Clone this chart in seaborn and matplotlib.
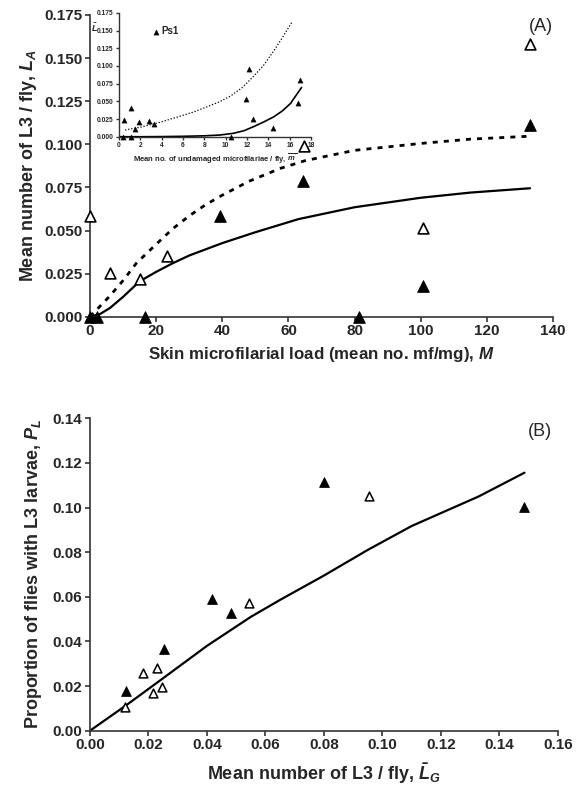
import numpy as np
import pandas as pd
import seaborn as sns
import matplotlib.pyplot as plt

sns.set_style('ticks')
plt.rcParams['font.family'] = ['Liberation Sans', 'DejaVu Sans']
plt.rcParams['font.weight'] = 'bold'
plt.rcParams['axes.labelweight'] = 'bold'
plt.rcParams['mathtext.fontset'] = 'custom'
plt.rcParams['mathtext.rm'] = 'Liberation Sans:bold'
plt.rcParams['mathtext.it'] = 'Liberation Sans:italic:bold'
plt.rcParams['mathtext.bf'] = 'Liberation Sans:bold'

# panel A - skin load vs L3 per fly
a_fill_x = [0, 2, 16.7, 39.3, 64.5, 81.4, 100.6, 133]
a_fill_y = [0, 0, 0, 0.0585, 0.079, 0, 0.0178, 0.111]
a_open_x = [0, 6, 15.1, 23.4, 64.8, 100.6, 133]
a_open_y = [0.0583, 0.0255, 0.0217, 0.0352, 0.099, 0.0516, 0.158]

a_solid_x = [0, 3, 6, 10, 15, 20, 25, 30, 40, 50, 63, 80, 100, 115, 133]
a_solid_y = [0, 0.0015, 0.005, 0.0115, 0.0205, 0.026, 0.031, 0.0355, 0.0427, 0.049,
             0.0566, 0.0635, 0.069, 0.072, 0.0745]
a_dash_x = [0, 3, 6, 10, 14, 20, 25, 30, 35, 40, 48, 57.5, 65, 80, 100, 115, 133]
a_dash_y = [0, 0.006, 0.012, 0.021, 0.031, 0.042, 0.051, 0.0585, 0.065, 0.0705, 0.0785,
            0.086, 0.0905, 0.0965, 0.1005, 0.103, 0.1047]

# inset - undamaged mf per fly (Ps1)
in_x = [0.4, 0.5, 1.14, 1.14, 1.52, 1.83, 2.78, 3.29, 10.46, 11.86, 12.2, 12.58, 14.42, 16.76, 16.95]
in_y = [0, 0.0236, 0.041, 0, 0.0104, 0.0207, 0.0222, 0.0175, 0, 0.054, 0.095, 0.025,
        0.0118, 0.048, 0.080]
in_solid_x = [0, 2, 4, 6, 8, 9.44, 10.7, 11.7, 12.58, 13.5, 14.48, 15.3, 16.06, 17.1]
in_solid_y = [0, 0, 0.0002, 0.0006, 0.0013, 0.0024, 0.0048, 0.0085, 0.0141, 0.0205, 0.028,
              0.0365, 0.047, 0.0697]
in_dot_x = [0.57, 2, 3.5, 5.3, 7, 8.2, 9.42, 10.5, 11.5, 12.58, 13.5, 14.48, 15.3, 16.16]
in_dot_y = [0.0095, 0.0135, 0.019, 0.027, 0.035, 0.042, 0.0494, 0.058, 0.069, 0.085, 0.1,
            0.121, 0.14, 0.161]

# panel B - mean L3 vs proportion infective
b_fill_x = [0.0123, 0.0254, 0.0416, 0.0484, 0.0799, 0.1486]
b_fill_y = [0.0178, 0.0365, 0.0589, 0.0529, 0.1116, 0.1004]
b_open_x = [0.0121, 0.018, 0.0214, 0.0228, 0.0245, 0.0545, 0.0953]
b_open_y = [0.0105, 0.0257, 0.017, 0.0282, 0.0195, 0.0574, 0.1052]
b_line_x = [0, 0.0125, 0.025, 0.04, 0.055, 0.065, 0.08, 0.095, 0.11, 0.133, 0.1486]
b_line_y = [0, 0.0115, 0.0235, 0.038, 0.051, 0.0586, 0.0695, 0.081, 0.0917, 0.105, 0.1156]

fig = plt.figure(figsize=(5.79, 7.89), dpi=100)
axA = fig.add_axes([0.1554, 0.5986, 0.800, 0.3824])
axB = fig.add_axes([0.1554, 0.0739, 0.808, 0.396])
axI = fig.add_axes([0.2055, 0.8267, 0.332, 0.157])

spine_col = '#333333'


def style(ax, fs, lw=1.2, tl=3.5):
    sns.despine(ax=ax)
    for s in ['left', 'bottom']:
        ax.spines[s].set_color(spine_col)
        ax.spines[s].set_linewidth(lw)
    ax.tick_params(labelsize=fs, width=lw, length=tl, color=spine_col, pad=2)


# panel A
sns.lineplot(x=a_solid_x, y=a_solid_y, ax=axA, color='black', lw=1.6, estimator=None)
sns.lineplot(x=a_dash_x, y=a_dash_y, ax=axA, color='black', lw=2.0, estimator=None,
             linestyle=(0, (1.8, 2.2)))
sns.scatterplot(x=a_fill_x, y=a_fill_y, ax=axA, marker='^', s=70, color='black',
                edgecolor='black', clip_on=False, zorder=5)
sns.scatterplot(x=a_open_x, y=a_open_y, ax=axA, marker='^', s=60, facecolor='white',
                edgecolor='black', linewidth=1.2, clip_on=False, zorder=6)
axA.set_xlim(0, 140)
axA.set_ylim(0, 0.175)
axA.set_xticks(np.arange(0, 141, 20))
axA.set_yticks(np.arange(0, 0.1751, 0.025))
axA.set_yticklabels([f'{v:.3f}' for v in np.arange(0, 0.1751, 0.025)])
style(axA, 11)
axA.set_xlabel('Skin microfilarial load (mean no. mf/mg), $\\mathit{M}$',
               fontsize=12.2, fontweight='bold', labelpad=5)
axA.set_ylabel('Mean number of L3 / fly, $\\mathit{L}_{\\mathit{A}}$',
               fontsize=13, fontweight='bold', labelpad=4)
axA.text(1.0, 0.99, '(A)', transform=axA.transAxes, fontsize=13, fontweight='normal',
         ha='right', va='top')

# inset
axI.set_facecolor('white')
sns.lineplot(x=in_solid_x, y=in_solid_y, ax=axI, color='black', lw=1.2, estimator=None)
sns.lineplot(x=in_dot_x, y=in_dot_y, ax=axI, color='black', lw=0.9, estimator=None,
             linestyle=(0, (1, 1.5)))
sns.scatterplot(x=in_x, y=in_y, ax=axI, marker='^', s=14, color='black',
                edgecolor='black', clip_on=False, zorder=5, label='Ps1')
axI.set_xlim(0, 18)
axI.set_ylim(0, 0.175)
axI.set_xticks(np.arange(0, 19, 2))
axI.set_yticks(np.arange(0, 0.1751, 0.025))
axI.set_yticklabels([f'{v:.3f}' for v in np.arange(0, 0.1751, 0.025)])
style(axI, 4.8, lw=1.0, tl=2)
axI.set_xlabel("Mean no. of undamaged microfilariae / fly, $\\overline{\\mathit{m'}}$",
               fontsize=5.5, fontweight='bold', labelpad=2)
axI.text(-0.145, 0.875, '$\\bar{\\mathit{L}}$', transform=axI.transAxes, fontsize=6.5,
         ha='left', va='center')
axI.legend(loc='center left', bbox_to_anchor=(0.14, 0.85), frameon=False, fontsize=7,
           handletextpad=0.05, borderpad=0, handlelength=1)

# panel B
sns.lineplot(x=b_line_x, y=b_line_y, ax=axB, color='black', lw=1.6, estimator=None)
sns.scatterplot(x=b_fill_x, y=b_fill_y, ax=axB, marker='^', s=50, color='black',
                edgecolor='black', zorder=5)
sns.scatterplot(x=b_open_x, y=b_open_y, ax=axB, marker='^', s=40, facecolor='white',
                edgecolor='black', linewidth=1.1, zorder=6)
axB.set_xlim(0, 0.16)
axB.set_ylim(0, 0.14)
axB.set_xticks(np.arange(0, 0.161, 0.02))
axB.set_xticklabels([f'{v:.2f}' for v in np.arange(0, 0.161, 0.02)])
axB.set_yticks(np.arange(0, 0.141, 0.02))
axB.set_yticklabels([f'{v:.2f}' for v in np.arange(0, 0.141, 0.02)])
style(axB, 11)
axB.set_xlabel('Mean number of L3 / fly, $\\bar{\\mathit{L}}_{\\mathit{G}}$',
               fontsize=13, fontweight='bold', labelpad=6)
axB.set_ylabel('Proportion of flies with L3 larvae, $\\mathit{P}_{\\mathit{L}}$',
               fontsize=13, fontweight='bold', labelpad=6)
axB.text(0.987, 0.985, '(B)', transform=axB.transAxes, fontsize=13, fontweight='normal',
         ha='right', va='top')

fig.savefig('out.png', dpi=100)
